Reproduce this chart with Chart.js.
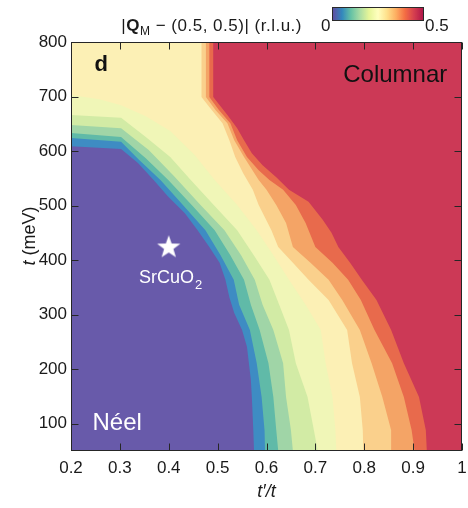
<!DOCTYPE html>
<html><head><meta charset="utf-8">
<script src="https://cdn.jsdelivr.net/npm/chart.js@4.4.1/dist/chart.umd.min.js"></script>
<style>
html,body{margin:0;padding:0;background:#fff;overflow:hidden;width:468px;height:508px;}
#wrap{position:relative;width:468px;height:508px;overflow:hidden;font-family:"Liberation Sans",Arial,sans-serif;color:#1a1a1a;}
#c{position:absolute;left:0;top:0;width:475px;height:508px;}
.t{position:absolute;white-space:nowrap;font-size:17px;line-height:17px;}
#cbar{position:absolute;left:332px;top:7px;width:90px;height:12px;border:1px solid #2a2a2a;
background:linear-gradient(to right,#5e4fa2,#3288bd 10%,#66c2a5 20%,#abdda4 30%,#e6f598 40%,#ffffbf 50%,#fee08b 60%,#fdae61 70%,#f46d43 80%,#d53e4f 90%,#b0174a);}
</style></head><body>
<div id="wrap">
<canvas id="c" width="475" height="508"></canvas>
<div id="cbar"></div>
<div class="t" style="right:166px;top:17px;letter-spacing:0.5px;">|<b>Q</b><span style="font-size:12px;position:relative;top:4px;">M</span> − (0.5, 0.5)| (r.l.u.)</div>
<div class="t" style="left:321px;top:17px;">0</div>
<div class="t" style="left:425px;top:17px;">0.5</div>
</div>
<script>
// ---- axes ----
const xAxisRange = [0.2, 1.0];
const yAxisRange = [50, 800];
const xTickValues = [0.2, 0.3, 0.4, 0.5, 0.6, 0.7, 0.8, 0.9, 1.0];
const xTickLabels = ['0.2', '0.3', '0.4', '0.5', '0.6', '0.7', '0.8', '0.9', '1'];
const yTickValues = [100, 200, 300, 400, 500, 600, 700, 800];
const yTickLabels = ['100', '200', '300', '400', '500', '600', '700', '800'];

// ---- contour levels of |Q_M - (0.5,0.5)|, lowest to highest ----
const bandColors = ['#685aaa', '#3e8cc3', '#60baa8', '#a0d5a7', '#d2eba5', '#f0f6b7',
                    '#fcf0b5', '#fad08c', '#f4a466', '#e86a4c', '#cc3956'];

// boundaries [t'/t, t (meV)]; 1-6 start on the left edge, 7-10 on the top edge
const boundary1 = [[0.2,609],[0.3025,604],[0.337,578],[0.369,547],[0.399,516],[0.433,486],[0.459,455],[0.483,424],[0.504,395],[0.516,364],[0.524,332],[0.534,303],[0.55,272],[0.56,241],[0.564,211],[0.568,180],[0.57,149],[0.573,88],[0.5745,50]];
const boundary2 = [[0.2,624],[0.3025,617],[0.339,584],[0.383,547],[0.429,501],[0.475,455],[0.506,409],[0.533,364],[0.544,318],[0.566,272],[0.58,211],[0.59,149],[0.596,88],[0.597,50]];
const boundary3 = [[0.2,633],[0.3025,626],[0.353,587],[0.399,547],[0.447,501],[0.494,455],[0.526,409],[0.554,364],[0.568,318],[0.586,272],[0.604,211],[0.614,149],[0.62,88],[0.624,50]];
const boundary4 = [[0.2,648],[0.3025,642],[0.359,602],[0.411,554],[0.465,501],[0.514,455],[0.548,409],[0.576,364],[0.592,318],[0.614,272],[0.634,211],[0.64,149],[0.65,88],[0.654,50]];
const boundary5 = [[0.2,666],[0.3025,661],[0.353,626],[0.403,589],[0.445,547],[0.492,501],[0.54,455],[0.574,409],[0.606,364],[0.626,318],[0.646,272],[0.66,211],[0.684,149],[0.697,88],[0.705,50]];
const boundary6 = [[0.2,703],[0.258,695],[0.3025,684],[0.353,664],[0.403,637],[0.453,593],[0.494,547],[0.54,501],[0.58,455],[0.614,409],[0.646,364],[0.68,318],[0.711,272],[0.721,211],[0.735,149],[0.741,88],[0.743,50]];
const boundary7 = [[0.467,800],[0.467,699],[0.483,681],[0.51,651],[0.524,620],[0.536,589],[0.552,560],[0.572,529],[0.584,501],[0.61,455],[0.624,424],[0.654,395],[0.686,364],[0.727,327],[0.765,272],[0.775,211],[0.791,149],[0.797,88],[0.798,50]];
const boundary8 = [[0.476,800],[0.476,699],[0.496,675],[0.52,651],[0.534,620],[0.554,589],[0.584,547],[0.6,529],[0.62,501],[0.64,468],[0.654,424],[0.69,395],[0.727,364],[0.755,327],[0.791,272],[0.815,211],[0.837,149],[0.855,88],[0.855,50]];
const boundary9 = [[0.483,800],[0.483,699],[0.503,675],[0.526,651],[0.54,620],[0.56,589],[0.584,565],[0.606,547],[0.634,529],[0.66,501],[0.68,468],[0.70,424],[0.735,395],[0.767,364],[0.793,327],[0.821,272],[0.857,211],[0.881,149],[0.897,88],[0.903,50]];
const boundary10 = [[0.491,800],[0.491,699],[0.52,666],[0.54,642],[0.554,620],[0.57,596],[0.592,574],[0.62,552],[0.646,529],[0.686,507],[0.715,474],[0.733,450],[0.747,424],[0.771,395],[0.795,364],[0.825,327],[0.855,272],[0.881,211],[0.912,149],[0.926,88],[0.928,50]];
const boundaries = [boundary1, boundary2, boundary3, boundary4, boundary5, boundary6, boundary7, boundary8, boundary9, boundary10];
const startsOnTop = [false, false, false, false, false, false, true, true, true, true];

// material marker
const srCuO2 = [0.4, 425];

// ---- build filled regions (value >= level), painted lowest first ----
const [X0, X1] = xAxisRange, [Y0, Y1] = yAxisRange;
function regionOf(curve, top) {
  const pts = curve.map(([x, y]) => ({x, y}));
  pts.push({x: X1, y: Y0}, {x: X1, y: Y1});
  if (!top) pts.push({x: X0, y: Y1});
  return pts;
}
const regions = [[{x: X0, y: Y0}, {x: X1, y: Y0}, {x: X1, y: Y1}, {x: X0, y: Y1}]]
  .concat(boundaries.map((b, i) => regionOf(b, startsOnTop[i])));

const datasets = regions.map((data, i) => ({
  data, fill: 'shape', backgroundColor: bandColors[i], borderColor: 'rgba(0,0,0,0)',
  borderWidth: 0, pointRadius: 0, pointHoverRadius: 0, tension: 0, order: 100 - i
}));

const starImg = document.createElement('canvas');
starImg.width = 26; starImg.height = 26;
(function () {
  const sc = starImg.getContext('2d');
  sc.fillStyle = '#ffffff'; sc.beginPath();
  for (let k = 0; k < 10; k++) {
    const r = k % 2 ? 4.9 : 12.2, a = -Math.PI / 2 + k * Math.PI / 5;
    sc.lineTo(13 + r * Math.cos(a), 14 + r * Math.sin(a));
  }
  sc.closePath(); sc.fill();
})();
datasets.push({data: [{x: srCuO2[0], y: srCuO2[1]}], showLine: false, pointStyle: starImg,
  pointRadius: 12, pointHoverRadius: 12, order: 0});

const FONT = '"Liberation Sans", Arial, sans-serif';
const annotations = [
  {text: 'd', x: 0.248, y: 746, font: 'bold 22px ' + FONT, color: '#111'},
  {text: 'Columnar', x: 0.757, y: 727, font: '24px ' + FONT, color: '#111'},
  {text: 'Néel', x: 0.244, y: 88, font: '24px ' + FONT, color: '#fff'},
  {text: 'SrCuO', sub: '2', x: 0.339, y: 358, font: '18px ' + FONT, subFont: '13px ' + FONT, color: '#fff'}
];

const frame = {
  id: 'frame',
  afterDatasetsDraw(chart) {
    const {ctx, scales: {x, y}} = chart;
    ctx.save();
    ctx.textBaseline = 'alphabetic'; ctx.textAlign = 'left';
    for (const a of annotations) {
      const px = x.getPixelForValue(a.x), py = y.getPixelForValue(a.y);
      ctx.font = a.font; ctx.fillStyle = a.color;
      ctx.fillText(a.text, px, py);
      if (a.sub) {
        const w = ctx.measureText(a.text).width;
        ctx.font = a.subFont; ctx.fillText(a.sub, px + w + 1, py + 6);
      }
    }
    ctx.restore();
  },
  afterDraw(chart) {
    const {ctx, chartArea: ca, scales: {x, y}} = chart;
    ctx.save();
    ctx.strokeStyle = '#262626'; ctx.lineWidth = 1;
    const L = ca.left + 0.5, R = ca.right - 0.5, T = ca.top + 0.5, B = ca.bottom - 0.5, tl = 7;
    ctx.strokeRect(L, T, R - L, B - T);
    ctx.beginPath();
    for (const t of x.ticks) {
      const p = Math.round(x.getPixelForValue(t.value)) + 0.5;
      ctx.moveTo(p, B); ctx.lineTo(p, B - tl);
      ctx.moveTo(p, T); ctx.lineTo(p, T + tl);
    }
    for (const t of y.ticks) {
      const p = Math.round(y.getPixelForValue(t.value)) + 0.5;
      ctx.moveTo(L, p); ctx.lineTo(L + tl, p);
      ctx.moveTo(R, p); ctx.lineTo(R - tl, p);
    }
    ctx.stroke();
    // y axis title: italic t + (meV)
    ctx.translate(30, 236); ctx.rotate(-Math.PI / 2);
    ctx.fillStyle = '#1a1a1a'; ctx.textBaseline = 'middle'; ctx.textAlign = 'left';
    ctx.font = 'italic 18px ' + FONT; const w1 = ctx.measureText('t').width;
    ctx.font = '18px ' + FONT; const w2 = ctx.measureText(' (meV)').width;
    const s = -(w1 + w2) / 2;
    ctx.font = 'italic 18px ' + FONT; ctx.fillText('t', s, 0);
    ctx.font = '18px ' + FONT; ctx.fillText(' (meV)', s + w1, 0);
    ctx.restore();
  }
};

Chart.defaults.font.family = FONT;
new Chart(document.getElementById('c'), {
  type: 'line',
  data: {datasets},
  options: {
    responsive: false, animation: false, devicePixelRatio: 1,
    layout: {padding: {top: 42, right: 6, left: 0, bottom: 0}},
    plugins: {legend: {display: false}, tooltip: {enabled: false}},
    events: [],
    scales: {
      x: {
        type: 'linear', min: X0, max: X1,
        grid: {display: false, drawTicks: false}, border: {display: false},
        afterBuildTicks: s => { s.ticks = xTickValues.map(v => ({value: v})); },
        afterFit: s => { s.height = 57; },
        ticks: {autoSkip: false, maxRotation: 0, padding: 7, color: '#1a1a1a',
          font: {size: 17}, callback: (v, i) => xTickLabels[i]},
        title: {display: true, text: 't′/t', color: '#1a1a1a',
          font: {size: 18, style: 'italic'}, padding: {top: 0, bottom: 5}}
      },
      y: {
        type: 'linear', min: Y0, max: Y1,
        grid: {display: false, drawTicks: false}, border: {display: false},
        afterBuildTicks: s => { s.ticks = yTickValues.map(v => ({value: v})); },
        afterFit: s => { s.width = 71; },
        ticks: {autoSkip: false, padding: 4, color: '#1a1a1a', font: {size: 17},
          callback: (v, i) => yTickLabels[i]}
      }
    }
  },
  plugins: [frame]
});
</script>
</body></html>
